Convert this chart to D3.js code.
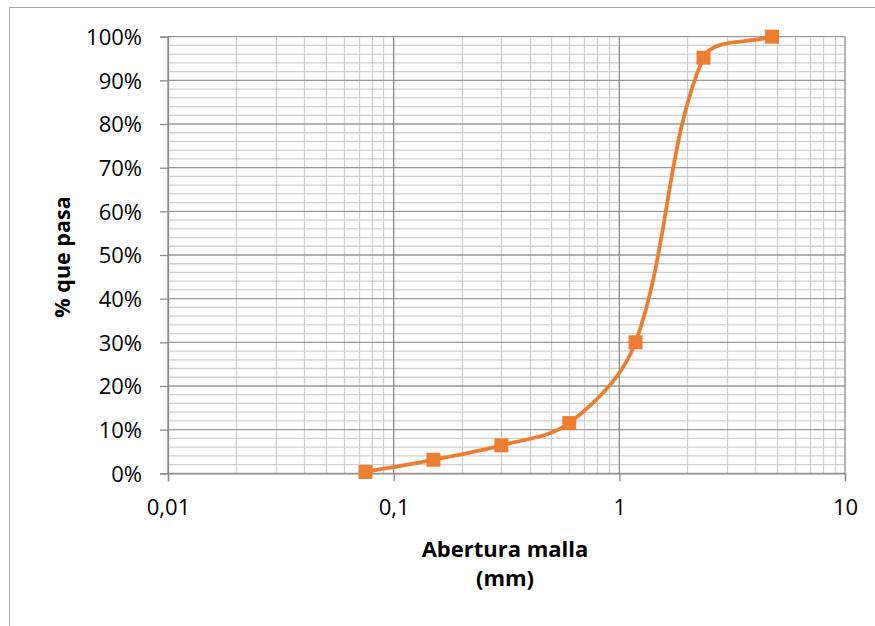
<!DOCTYPE html>
<html lang="es">
<head>
    <meta charset="UTF-8">
    <title>Curva granulométrica</title>
    <script src="https://cdn.jsdelivr.net/npm/d3@7/dist/d3.min.js"></script>
    <style>
        body { margin: 0; background: #fff; }
        text { font-family: "Open Sans", "Noto Sans", sans-serif; fill: #000; }
    </style>
</head>
<body>
<script>
    // abertura de malla (mm) y % que pasa
    const aberturas = [0.075, 0.15, 0.3, 0.6, 1.18, 2.36, 4.75];
    const pasa = [0.003, 0.031, 0.064, 0.115, 0.30, 0.952, 1.0];
    const xTicks = [0.01, 0.1, 1, 10];
    const xTickLabels = ["0,01", "0,1", "1", "10"];
    const yTicks = d3.range(0, 1.0001, 0.1);

    const width = 875, height = 626;
    const x = d3.scaleLog().domain([0.01, 10]).range([168, 845]);
    const y = d3.scaleLinear().domain([0, 1]).range([473.3, 36.7]);

    const svg = d3.select("body").append("svg")
        .attr("width", width)
        .attr("height", height);

    // recorte al área de trazado (como Excel)
    svg.append("clipPath").attr("id", "plot-clip")
        .append("rect")
        .attr("x", x(0.01)).attr("y", y(1) - 0.5)
        .attr("width", x(10) - x(0.01)).attr("height", y(0) - y(1) + 1);

    // marco del gráfico
    svg.append("rect")
        .attr("x", 9.5).attr("y", 7.5)
        .attr("width", 900).attr("height", 700)
        .attr("fill", "none")
        .attr("stroke", "#a6a6a6")
        .attr("stroke-width", 1);

    const grid = svg.append("g");

    // líneas secundarias verticales (2..9 por década)
    const minorX = [];
    [0.01, 0.1, 1].forEach(d => { for (let k = 2; k <= 9; k++) minorX.push(d * k); });
    grid.selectAll(".vminor").data(minorX).enter().append("line")
        .attr("x1", d => Math.round(x(d)) + 0.5).attr("x2", d => Math.round(x(d)) + 0.5)
        .attr("y1", y(1)).attr("y2", y(0))
        .attr("stroke", "#d0d0d0").attr("stroke-width", 1.3);

    // líneas secundarias horizontales cada 2%
    const minorY = d3.range(0.02, 1, 0.02).filter(v => Math.round(v * 100) % 10 !== 0);
    grid.selectAll(".hminor").data(minorY).enter().append("line")
        .attr("x1", x(0.01)).attr("x2", x(10))
        .attr("y1", d => y(d)).attr("y2", d => y(d))
        .attr("stroke", "#d0d0d0").attr("stroke-width", 1.3);

    // líneas principales
    grid.selectAll(".hmajor").data(yTicks).enter().append("line")
        .attr("x1", x(0.01)).attr("x2", x(10))
        .attr("y1", d => y(d)).attr("y2", d => y(d))
        .attr("stroke", "#9a9a9a").attr("stroke-width", 1.3);
    grid.selectAll(".vmajor").data(xTicks).enter().append("line")
        .attr("x1", d => x(d)).attr("x2", d => x(d))
        .attr("y1", y(1)).attr("y2", y(0))
        .attr("stroke", "#8c8c8c").attr("stroke-width", 1.3);

    // eje Y
    const yAxis = d3.axisLeft(y).tickValues(yTicks)
        .tickFormat(d3.format(".0%")).tickSize(8).tickPadding(18);
    const gy = svg.append("g").attr("transform", `translate(${x(0.01)},0)`).call(yAxis);
    gy.select(".domain").attr("stroke", "#8c8c8c").attr("stroke-width", 1.3);
    gy.selectAll(".tick line").attr("stroke", "#8c8c8c").attr("stroke-width", 1.3);
    gy.selectAll(".tick text").attr("font-size", 22).attr("font-family", "'Open Sans', sans-serif").attr("dy", "0.36em");

    // eje X
    const xAxis = d3.axisBottom(x).tickValues(xTicks)
        .tickFormat((d, i) => xTickLabels[i]).tickSize(8).tickPadding(18);
    const gx = svg.append("g").attr("transform", `translate(0,${y(0)})`).call(xAxis);
    gx.select(".domain").attr("stroke", "#8c8c8c").attr("stroke-width", 1.3);
    gx.selectAll(".tick line").attr("stroke", "#8c8c8c").attr("stroke-width", 1.3);
    gx.selectAll(".tick text").attr("font-size", 22).attr("font-family", "'Open Sans', sans-serif");

    // suavizado tipo Excel: bezier con tangentes escaladas por longitud de tramo
    function smoothPath(p) {
        const path = d3.path();
        const dist = (a, b) => Math.hypot(b[0] - a[0], b[1] - a[1]);
        const f = 1 / 6;
        path.moveTo(p[0][0], p[0][1]);
        for (let i = 0; i < p.length - 1; i++) {
            const p0 = p[Math.max(i - 1, 0)], p1 = p[i], p2 = p[i + 1], p3 = p[Math.min(i + 2, p.length - 1)];
            const d01 = dist(p0, p1), d12 = dist(p1, p2), d23 = dist(p2, p3);
            const s1 = f * 2 * d12 / (d01 + d12);
            const s2 = f * 2 * d12 / (d12 + d23);
            path.bezierCurveTo(
                p1[0] + (p2[0] - p0[0]) * s1, p1[1] + (p2[1] - p0[1]) * s1,
                p2[0] - (p3[0] - p1[0]) * s2, p2[1] - (p3[1] - p1[1]) * s2,
                p2[0], p2[1]);
        }
        return path.toString();
    }

    const pts = aberturas.map((d, i) => [x(d), y(pasa[i])]);
    svg.append("path")
        .attr("clip-path", "url(#plot-clip)")
        .attr("d", smoothPath(pts))
        .attr("fill", "none")
        .attr("stroke", "#ed7d31")
        .attr("stroke-width", 3.8)
        .attr("stroke-linecap", "round");

    svg.selectAll(".marker").data(pts).enter().append("rect")
        .attr("x", d => d[0] - 7).attr("y", d => d[1] - 7)
        .attr("width", 14).attr("height", 14)
        .attr("fill", "#ed7d31");

    // títulos de ejes
    svg.append("text")
        .attr("transform", "translate(70,257) rotate(-90)")
        .attr("text-anchor", "middle")
        .attr("font-size", 21.5).attr("font-weight", "bold")
        .text("% que pasa");

    svg.append("text")
        .attr("x", 505).attr("y", 557)
        .attr("text-anchor", "middle")
        .attr("font-size", 22).attr("font-weight", "bold")
        .text("Abertura malla");
    svg.append("text")
        .attr("x", 505).attr("y", 586)
        .attr("text-anchor", "middle")
        .attr("font-size", 22).attr("font-weight", "bold")
        .text("(mm)");
</script>
</body>
</html>
